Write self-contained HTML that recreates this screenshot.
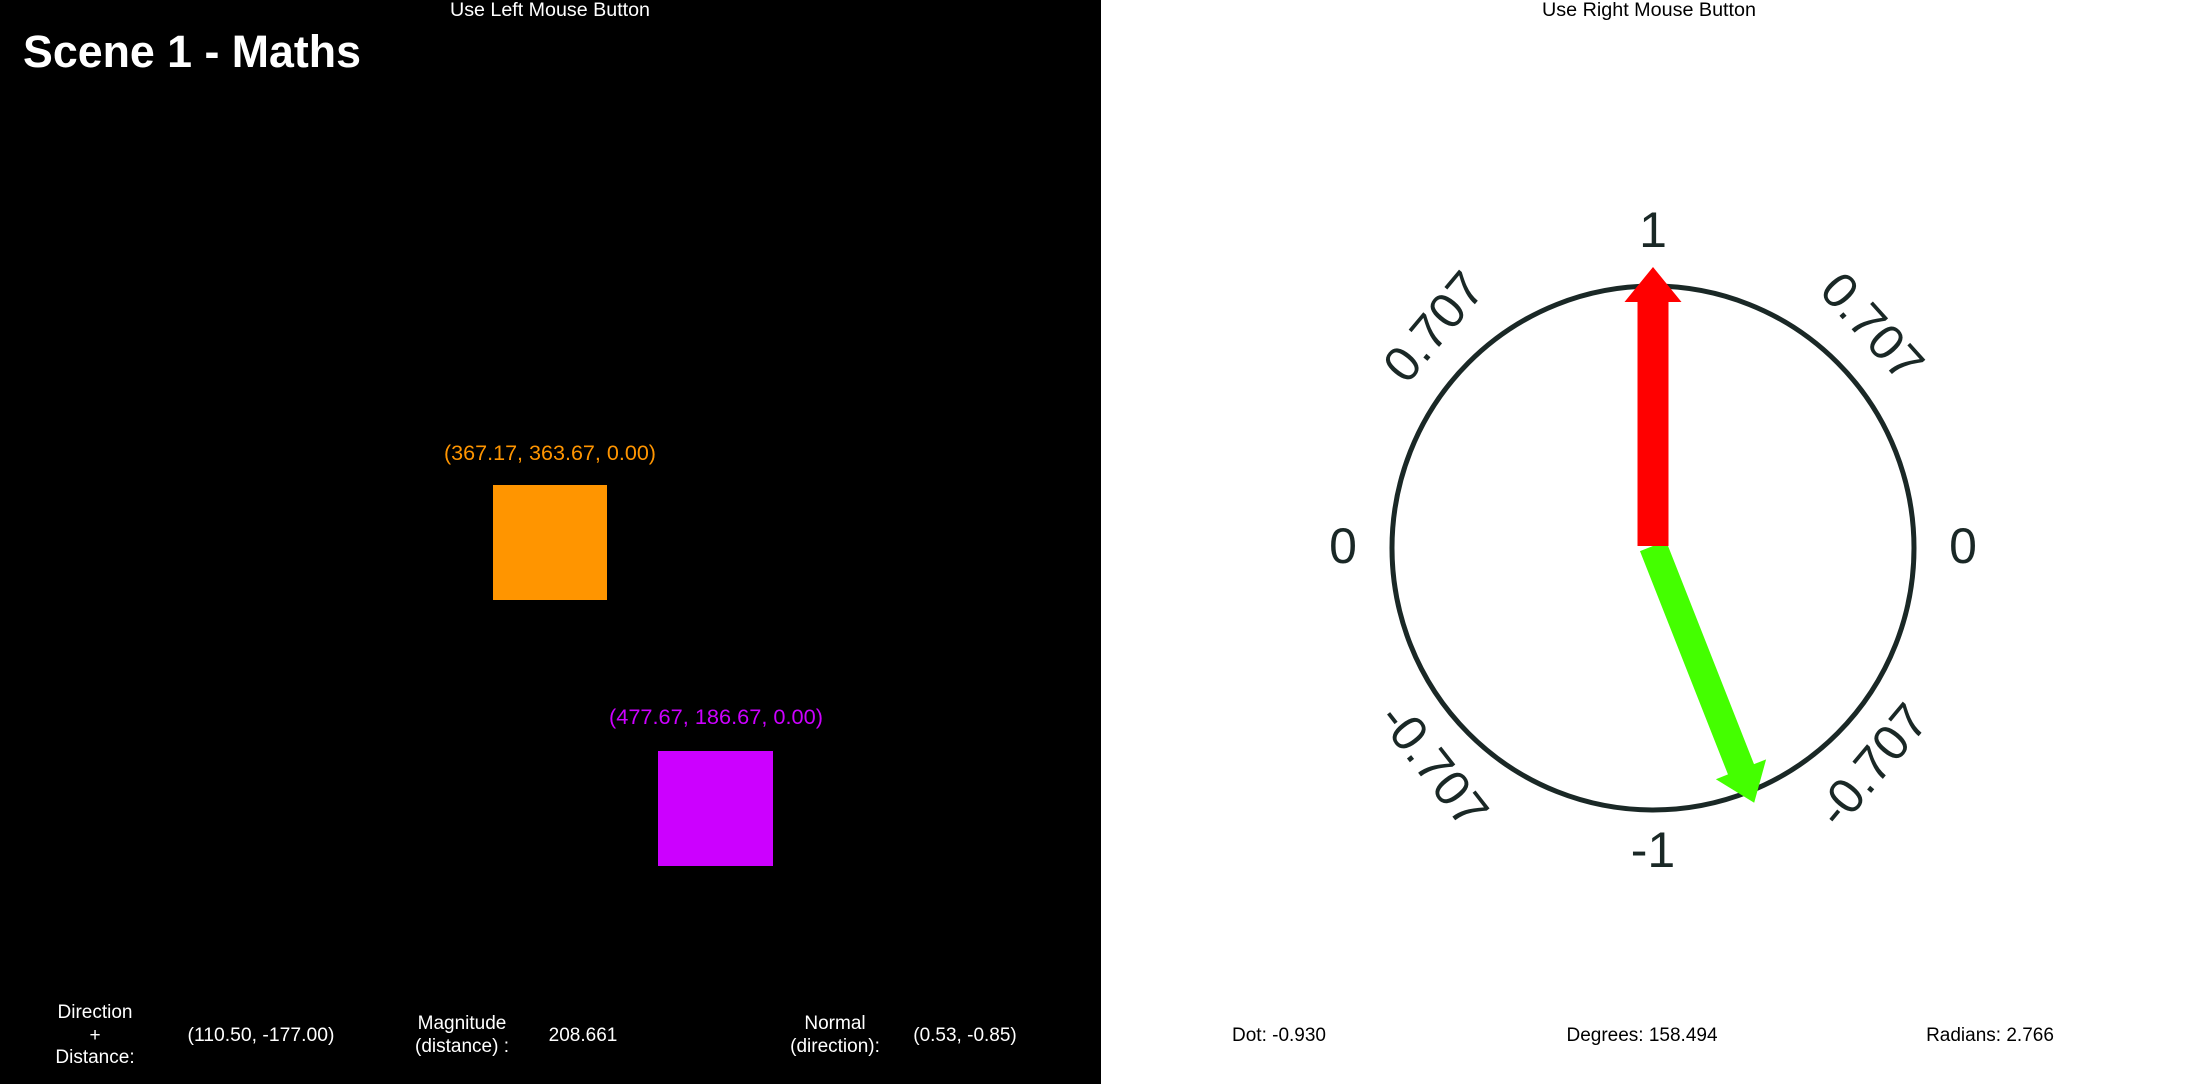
<!DOCTYPE html>
<html><head><meta charset="utf-8">
<style>
html,body{margin:0;padding:0;width:2197px;height:1084px;overflow:hidden;background:#fff}
svg{display:block}
.n{font-family:"Liberation Sans",sans-serif}
</style></head>
<body>
<svg id="s" width="2197" height="1084" viewBox="0 0 2197 1084" xmlns="http://www.w3.org/2000/svg">
<rect x="0" y="0" width="1101" height="1084" fill="#000"/>
<rect x="1101" y="0" width="1096" height="1084" fill="#fff"/>
<text class="n" x="550" y="16" fill="#fff" font-size="19" text-anchor="middle" textLength="200" lengthAdjust="spacingAndGlyphs">Use Left Mouse Button</text>
<text class="n" x="1649" y="16" fill="#000" font-size="19" text-anchor="middle" textLength="214" lengthAdjust="spacingAndGlyphs">Use Right Mouse Button</text>
<text x="23" y="67" fill="#fff" font-family="Liberation Sans, sans-serif" font-weight="bold" font-size="45" textLength="338" lengthAdjust="spacingAndGlyphs">Scene 1 - Maths</text>

<text class="n" x="550" y="460" fill="#ff9500" font-size="21" text-anchor="middle" textLength="212" lengthAdjust="spacingAndGlyphs">(367.17, 363.67, 0.00)</text>
<rect x="493" y="485" width="114" height="115" fill="#ff9500"/>
<text class="n" x="716" y="724" fill="#cc00ff" font-size="21" text-anchor="middle" textLength="214" lengthAdjust="spacingAndGlyphs">(477.67, 186.67, 0.00)</text>
<rect x="658" y="751" width="115" height="115" fill="#cc00ff"/>

<g class="n" fill="#fff" font-size="19" text-anchor="middle">
<text x="95" y="1018">Direction</text>
<text x="95" y="1041">+</text>
<text x="95" y="1063">Distance:</text>
<text x="261" y="1041" textLength="147" lengthAdjust="spacingAndGlyphs">(110.50, -177.00)</text>
<text x="462" y="1029">Magnitude</text>
<text x="462" y="1052">(distance) :</text>
<text x="583" y="1041">208.661</text>
<text x="835" y="1029">Normal</text>
<text x="835" y="1052">(direction):</text>
<text x="965" y="1041">(0.53, -0.85)</text>
</g>
<g class="n" fill="#000" font-size="19" text-anchor="middle">
<text x="1279" y="1041">Dot: -0.930</text>
<text x="1642" y="1041">Degrees: 158.494</text>
<text x="1990" y="1041">Radians: 2.766</text>
</g>

<ellipse cx="1653" cy="548" rx="261" ry="262" fill="none" stroke="#1a2826" stroke-width="5"/>
<g id="labels" font-family="Liberation Sans, sans-serif" font-size="50" fill="#1a2826" text-anchor="middle" dominant-baseline="central"></g>
<g id="arrows"></g>
</svg>
<script>
const tickLabels = ["1","0.707","0","-0.707","-1","-0.707","0","0.707"];
const tickAngles = [0,45,90,135,180,225,270,315];
const refAngleDeg = [0];
const targetAngleDeg = [158.494];
const cx=1653, cy=546;
const NS="http://www.w3.org/2000/svg";
const lg=document.getElementById('labels');
tickLabels.forEach((t,i)=>{
  const a=tickAngles[i]*Math.PI/180, r=310;
  const x=cx+r*Math.sin(a), y=cy-r*Math.cos(a)+(i==0||i==4?-6:0);
  const rot=[0,48,0,-50,0,52,0,-50][i];
  const e=document.createElementNS(NS,'text');
  
  
  e.setAttribute('x',x);e.setAttribute('y',y);
  e.setAttribute('transform',`rotate(${rot} ${x} ${y})`);
  e.textContent=t;lg.appendChild(e);
});
function arrow(deg,color,name,w,hw,hl,len){
  const g=document.createElementNS(NS,'polygon');
  const a=deg*Math.PI/180, ux=Math.sin(a), uy=-Math.cos(a), px=-uy, py=ux;
  const b=len-hl;
  const P=[[-w/2,0],[-w/2,b],[-hw/2,b],[0,len],[hw/2,b],[w/2,b],[w/2,0]];
  g.setAttribute('points',P.map(([s,t])=>`${cx+px*s+ux*t},${cy+py*s+uy*t}`).join(' '));
  g.setAttribute('fill',color);
  
  
  document.getElementById('arrows').appendChild(g);
}
arrow(targetAngleDeg[0],'#44ff00','target-arrow',28,54,36,276);
arrow(refAngleDeg[0],'#ff0000','reference-arrow',31,57,35,279);
</script>
</body></html>
